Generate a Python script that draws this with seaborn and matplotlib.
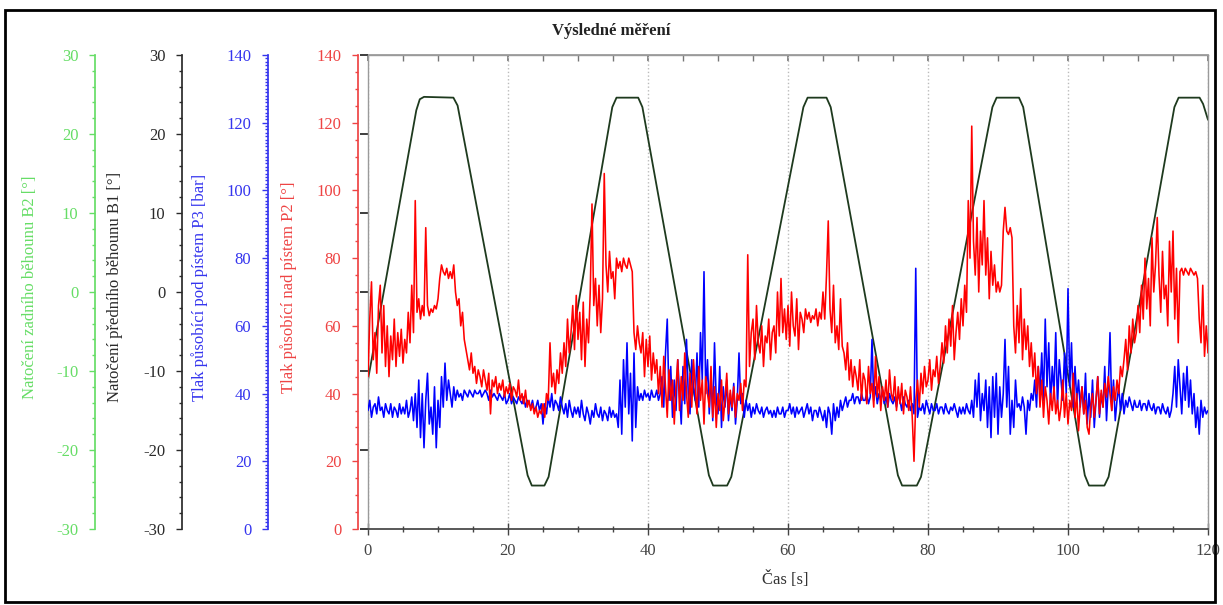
import numpy as np
import pandas as pd
import matplotlib
matplotlib.use("Agg")
import matplotlib.pyplot as plt
import seaborn as sns
from matplotlib.patches import Rectangle
from matplotlib.ticker import MultipleLocator


# sampling step of the two pressure records [s]
SAMPLE_STEP = 0.25

# Tlak nad pistem P2 (red), 4 samples per second
P2_NAD = [
    45, 62, 73, 50, 58, 46, 66, 72, 52, 66, 48, 60, 45, 57, 50, 62, 48, 58, 51, 59,
    49, 56, 52, 64, 55, 72, 58, 97, 64, 68, 62, 66, 63, 89, 66, 63, 65, 64, 66, 65,
    68, 74, 78, 76, 75, 77, 74, 76, 74, 78, 70, 66, 68, 60, 64, 56, 53, 50, 47, 52,
    46, 48, 43, 47, 45, 42, 47, 44, 41, 46, 34, 44, 42, 45, 40, 43, 41, 44, 39, 42,
    40, 43, 38, 42, 41, 39, 44, 38, 40, 37, 41, 36, 38, 35, 37, 34, 36, 33, 35, 34,
    37, 33, 40, 38, 55, 42, 46, 40, 47, 43, 52, 46, 55, 48, 62, 52, 58, 66, 53, 69,
    56, 64, 50, 67, 48, 62, 55, 70, 96, 66, 74, 60, 72, 58, 68, 105, 78, 70, 82, 74,
    76, 68, 80, 77, 79, 76, 80, 78, 77, 80, 78, 76, 58, 53, 60, 55, 52, 58, 45, 56,
    48, 57, 44, 52, 46, 50, 40, 48, 36, 51, 42, 33, 47, 38, 44, 31, 42, 50, 35, 45,
    38, 52, 40, 33, 46, 36, 50, 42, 34, 48, 38, 44, 31, 45, 40, 36, 48, 33, 42, 30,
    40, 35, 44, 32, 38, 46, 34, 41, 36, 42, 33, 40, 38, 43, 35, 44, 42, 81, 48, 58,
    62, 50, 66, 55, 52, 60, 48, 57, 55, 62, 50, 58, 60, 52, 70, 57, 74, 58, 65, 56,
    66, 54, 70, 60, 57, 68, 53, 64, 62, 58, 65, 62, 64, 61, 63, 62, 65, 60, 64, 62,
    70, 62, 75, 91, 65, 58, 72, 55, 60, 53, 68, 54, 52, 47, 55, 44, 50, 42, 48, 45,
    41, 50, 38, 46, 44, 37, 48, 40, 43, 36, 51, 39, 45, 35, 42, 38, 44, 36, 47, 40,
    38, 45, 35, 42, 37, 43, 34, 41, 39, 35, 42, 33, 20, 38, 44, 36, 46, 40, 48, 42,
    44, 50, 41, 47, 45, 51, 43, 48, 55, 49, 60, 52, 62, 54, 66, 50, 58, 64, 56, 68,
    60, 72, 64, 97, 80, 119, 85, 75, 92, 70, 88, 78, 97, 75, 86, 68, 82, 72, 78, 70,
    73, 70, 72, 88, 95, 88, 87, 89, 86, 60, 52, 66, 55, 71, 50, 62, 53, 60, 48, 55,
    45, 52, 40, 48, 36, 44, 33, 42, 38, 31, 40, 35, 42, 34, 38, 32, 36, 44, 33, 40,
    31, 38, 35, 46, 33, 40, 29, 37, 42, 34, 38, 30, 28, 36, 40, 33, 38, 45, 34, 41,
    36, 43, 39, 45, 40, 35, 42, 38, 44, 40, 48, 45, 50, 56, 47, 60, 52, 62, 55, 58,
    66, 58, 72, 62, 80, 65, 74, 60, 86, 70, 78, 92, 75, 64, 82, 68, 72, 60, 85, 70,
    88, 62, 77, 55, 76, 77, 75, 77, 76, 75, 77, 76, 75, 76, 74, 62, 55, 72, 51, 60,
    52,
]

# Tlak pod pistem P3 (blue), 4 samples per second
P3_POD = [
    35, 38, 33, 36, 37, 34, 39, 35, 36, 33, 37, 35, 34, 37, 33, 36, 35, 33, 37, 34,
    36, 34, 38, 33, 35, 39, 32, 40, 30, 44, 27, 40, 24, 38, 46, 31, 36, 28, 42, 24,
    38, 30, 45, 36, 49, 38, 44, 40, 36, 42, 38, 41, 39, 40, 38, 41, 40, 39, 41, 40,
    39, 41, 40, 40, 41, 39, 40, 41, 40, 38, 41, 39, 40, 39, 38, 40, 39, 38, 40, 37,
    38, 40, 37, 39, 38, 37, 39, 38, 37, 39, 36, 38, 37, 36, 38, 35, 36, 38, 35, 37,
    31, 37, 34, 39, 36, 40, 35, 38, 37, 35, 39, 36, 34, 37, 33, 38, 35, 33, 36, 34,
    36, 33, 38, 34, 32, 36, 34, 31, 35, 33, 37, 34, 33, 36, 32, 35, 34, 32, 36, 33,
    35, 33, 34, 30, 44, 28, 50, 36, 55, 34, 46, 26, 52, 30, 42, 38, 40, 38, 41, 39,
    40, 38, 41, 39, 39, 41, 38, 40, 45, 36, 52, 62, 38, 48, 33, 44, 35, 50, 40, 31,
    48, 37, 56, 40, 34, 50, 42, 38, 52, 36, 58, 44, 76, 40, 50, 34, 46, 32, 55, 38,
    34, 48, 30, 42, 36, 44, 32, 40, 35, 43, 31, 38, 52, 37, 40, 33, 38, 35, 37, 33,
    36, 34, 37, 35, 34, 36, 33, 35, 36, 34, 35, 33, 35, 33, 36, 34, 34, 36, 33, 35,
    35, 37, 34, 36, 33, 36, 34, 35, 36, 33, 35, 37, 34, 36, 32, 35, 35, 33, 36, 34,
    32, 35, 30, 36, 34, 28, 37, 32, 36, 33, 38, 35, 37, 39, 36, 38, 38, 40, 37, 39,
    39, 37, 40, 38, 38, 40, 37, 39, 56, 38, 42, 37, 40, 38, 41, 37, 39, 36, 40, 38,
    37, 39, 36, 40, 38, 35, 39, 37, 36, 38, 35, 37, 34, 77, 33, 36, 35, 37, 34, 38,
    36, 34, 37, 35, 35, 37, 34, 36, 36, 34, 37, 35, 34, 36, 35, 37, 35, 33, 36, 34,
    36, 34, 37, 35, 34, 38, 33, 44, 36, 46, 32, 40, 35, 44, 30, 42, 27, 45, 33, 46,
    28, 42, 33, 40, 56, 36, 48, 28, 38, 30, 44, 36, 37, 35, 39, 36, 28, 38, 35, 40,
    38, 44, 36, 48, 40, 52, 38, 62, 42, 55, 37, 48, 40, 58, 36, 50, 44, 38, 52, 40,
    71, 42, 55, 36, 48, 38, 44, 36, 42, 34, 46, 31, 40, 33, 44, 30, 38, 45, 33, 40,
    36, 48, 32, 42, 58, 35, 44, 32, 38, 42, 35, 40, 34, 38, 36, 39, 37, 35, 38, 36,
    36, 38, 35, 37, 37, 35, 38, 36, 35, 37, 34, 36, 36, 34, 37, 35, 34, 36, 33, 35,
    40, 48, 36, 50, 42, 34, 46, 38, 48, 36, 44, 34, 40, 30, 36, 28, 38, 33, 36, 34,
    35,
]

# Natoceni predniho behounu B1, read at the corners of the trapezoids
B1_TIME = [0, 6.9, 7.4, 8.0, 12.2, 12.8, 22.8, 23.4, 25.2, 25.8,
           34.9, 35.5, 38.6, 39.2, 48.7, 49.3, 51.3, 51.9,
           62.2, 62.8, 65.5, 66.1, 75.7, 76.3, 78.4, 79.0,
           89.2, 89.8, 93.0, 93.6, 102.4, 103.0, 105.2, 105.8,
           115.2, 115.8, 118.8, 119.3, 120]
B1_ANGLE = [-11.1, 23.0, 24.4, 24.7, 24.6, 23.6, -23.2, -24.5, -24.5, -23.4,
            23.4, 24.6, 24.6, 23.4, -23.2, -24.5, -24.5, -23.4,
            23.4, 24.6, 24.6, 23.4, -23.2, -24.5, -24.5, -23.4,
            23.4, 24.6, 24.6, 23.4, -23.2, -24.5, -24.5, -23.4,
            23.4, 24.6, 24.6, 23.8, 21.8]

TITLE = "Výsledné měření"
X_LABEL = "Čas [s]"
LABEL_B2 = "Natočení zadního běhounu B2 [°]"
LABEL_B1 = "Natočení předního běhounu B1 [°]"
LABEL_P3 = "Tlak působící pod pístem P3 [bar]"
LABEL_P2 = "Tlak působící nad pístem P2 [°]"


sns.set_theme(style="white")
plt.rcParams["font.family"] = ["Liberation Serif", "DejaVu Serif"]
plt.rcParams["axes.unicode_minus"] = False

W, H = 1223, 605
fig = plt.figure(figsize=(W / 100, H / 100), dpi=100)
fig.patch.set_facecolor("white")

# plot box in pixels: x 368..1208, y 55..529
left, right, top, bottom = 368, 1208, 55, 529
ax = fig.add_axes([left / W, 1 - bottom / H, (right - left) / W, (bottom - top) / H])

pressures = pd.DataFrame({
    "t": np.arange(len(P2_NAD)) * SAMPLE_STEP,
    "P2": P2_NAD,
    "P3": P3_POD,
})
angle = pd.DataFrame({"t": B1_TIME, "B1": B1_ANGLE})

# angle line on the B1 scale
sns.lineplot(data=angle, x="t", y="B1", ax=ax, color="#1e3a1e",
             linewidth=1.3, estimator=None, sort=False)
ax.set_xlim(0, 120)
ax.set_ylim(-30, 30)
ax.set_ylabel("")
ax.set_xlabel(X_LABEL, fontsize=12, color="#333333")
ax.xaxis.set_label_coords(0.497, -0.088)
ax.xaxis.set_major_locator(MultipleLocator(20))
ax.xaxis.set_minor_locator(MultipleLocator(5))
ax.tick_params(axis="x", which="major", direction="inout", length=8, width=1,
               colors="#444444", labelsize=12, pad=6, bottom=True)
ax.tick_params(axis="x", which="minor", direction="inout", length=5, width=1,
               colors="#444444", bottom=True)
ax.tick_params(axis="y", left=False, labelleft=False, right=False)
ax.xaxis.grid(True, which="major", linestyle=":", color="#bbbbbb", linewidth=1)
for side in ["left", "right", "top"]:
    ax.spines[side].set_color("#9a9a9a")
    ax.spines[side].set_linewidth(1)
ax.spines["bottom"].set_color("#444444")

top_ax = ax.secondary_xaxis("top")
top_ax.xaxis.set_major_locator(MultipleLocator(20))
top_ax.xaxis.set_minor_locator(MultipleLocator(5))
top_ax.tick_params(axis="x", which="both", direction="in", length=4,
                   colors="#777777", labeltop=False)
top_ax.spines["top"].set_color("#9a9a9a")

# pressures share the 0-140 scale
axp = ax.twinx()
sns.lineplot(data=pressures, x="t", y="P3", ax=axp, color="#0000ff",
             linewidth=1.15, estimator=None, sort=False)
sns.lineplot(data=pressures, x="t", y="P2", ax=axp, color="#ff0000",
             linewidth=1.15, estimator=None, sort=False)
axp.set_ylim(0, 140)
axp.set_ylabel("")
axp.tick_params(axis="y", right=False, labelright=False)
for s in axp.spines.values():
    s.set_visible(False)


def side_axis(offset_px, lims, major, minor, color, label, label_x):
    a = ax.twinx()
    a.set_ylim(*lims)
    for side in ["top", "right", "bottom"]:
        a.spines[side].set_visible(False)
    a.spines["left"].set_visible(True)
    a.spines["left"].set_position(("outward", offset_px * 0.72))
    a.spines["left"].set_color(color)
    a.yaxis.set_ticks_position("left")
    a.yaxis.set_label_position("left")
    a.yaxis.set_major_locator(MultipleLocator(major))
    a.yaxis.set_minor_locator(MultipleLocator(minor))
    a.tick_params(axis="y", which="major", colors=color, length=4, width=1,
                  labelsize=12, pad=8, left=True, right=False)
    a.tick_params(axis="y", which="minor", colors=color, length=2, width=1,
                  left=True, right=False)
    a.set_ylabel(label, color=color, fontsize=12)
    a.yaxis.set_label_coords(label_x, 0.51)
    return a


side_axis(10, (0, 140), 20, 5, "#ee4444", LABEL_P2, -0.084)
side_axis(100, (0, 140), 20, 1, "#3535ee", LABEL_P3, -0.190)
side_axis(186, (-30, 30), 10, 2, "#2a2a2a", LABEL_B1, -0.292)
side_axis(273, (-30, 30), 10, 2, "#66dd66", LABEL_B2, -0.393)

fig.text(0.5, 1 - 31 / H, TITLE, ha="center", va="center",
         fontsize=12, fontweight="bold", color="#222222")

# outer frame of the picture
fig.add_artist(Rectangle((5 / W, 3 / H), 1210 / W, 592 / H,
                         transform=fig.transFigure, fill=False,
                         edgecolor="black", linewidth=2))

fig.savefig("out.png", dpi=100)
